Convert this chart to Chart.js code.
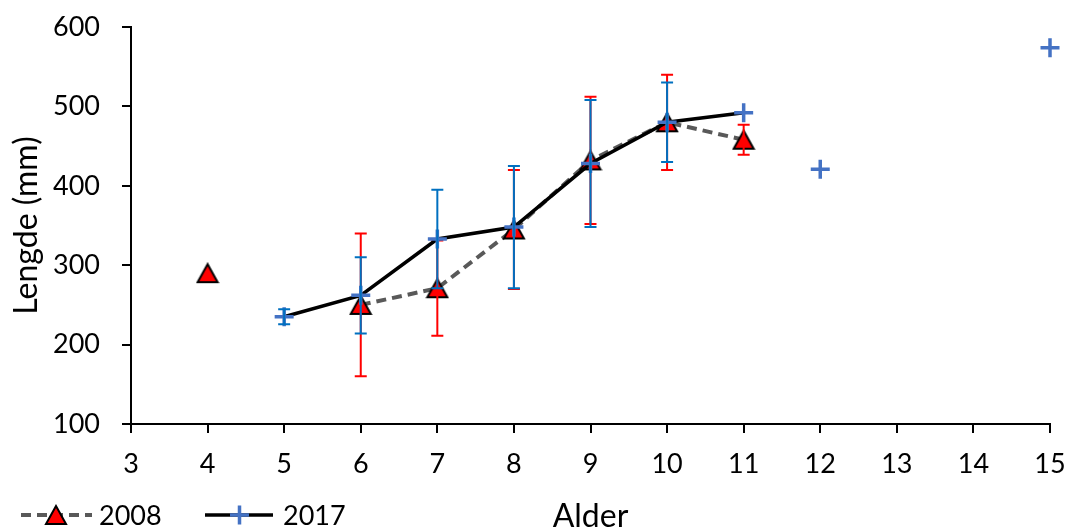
<!DOCTYPE html>
<html>
<head>
<meta charset="utf-8">
<script src="https://cdn.jsdelivr.net/npm/chart.js@4/dist/chart.umd.min.js"></script>
<style>
  body { margin: 0; background: #fff; }
  #wrap { width: 1070px; height: 529px; position: relative; }
</style>
</head>
<body>
<div id="wrap"><canvas id="chart"></canvas></div>
<script>
// data
var ages2008 = [4, 6, 7, 8, 9, 10, 11];
var length2008 = [290, 250, 271, 345, 432, 480, 458];
var sd2008 = [null, 90, 60, 75, 80, 60, 19];

var ages2017 = [5, 6, 7, 8, 9, 10, 11, 12, 15];
var length2017 = [235, 262, 333, 348, 428, 480, 492, 421, 574];
var sd2017 = [9.5, 48, 62, 77, 80, 50, null, null, null];

// ages joined by a line (first, last)
var joined2008 = [6, 11];
var joined2017 = [5, 11];

var xTicks = [3, 4, 5, 6, 7, 8, 9, 10, 11, 12, 13, 14, 15];
var yTicks = [100, 200, 300, 400, 500, 600];

var seriesNames = ["2008", "2017"];

var FONT = "Lato";

// red triangle marker with black edge, centred like Excel does
function makeTriangle() {
	var c = document.createElement("canvas");
	c.width = 24; c.height = 22;
	var g = c.getContext("2d");
	g.beginPath();
	g.moveTo(12, 2);
	g.lineTo(22, 20);
	g.lineTo(2, 20);
	g.closePath();
	g.fillStyle = "#ff0000";
	g.fill();
	g.lineWidth = 2;
	g.strokeStyle = "#000";
	g.lineJoin = "miter";
	g.stroke();
	return c;
}
var triangle = makeTriangle();

function toPoints(xs, ys) {
	var out = [];
	for (var i = 0; i < xs.length; i++) {
		out.push({ x: xs[i], y: ys[i] });
	}
	return out;
}

function segColor(range, color) {
	return function(ctx) {
		var a = ctx.p0.parsed.x, b = ctx.p1.parsed.x;
		if (a >= range[0] && b <= range[1]) return color;
		return "rgba(0,0,0,0)";
	};
}

var errorBars = {
	id: "errorBars",
	afterDatasetDraw: function(chart, args) {
		var ds = chart.data.datasets[args.index];
		if (!ds.errors) return;
		var xs = chart.scales.x, ys = chart.scales.y;
		var ctx = chart.ctx;
		ctx.save();
		ctx.strokeStyle = ds.errorColor;
		ctx.lineWidth = 2;
		for (var i = 0; i < ds.data.length; i++) {
			var e = ds.errors[i];
			if (e == null) continue;
			var px = xs.getPixelForValue(ds.data[i].x);
			var top = ys.getPixelForValue(ds.data[i].y + e);
			var bot = ys.getPixelForValue(ds.data[i].y - e);
			ctx.beginPath();
			ctx.moveTo(px, top); ctx.lineTo(px, bot);
			ctx.moveTo(px - 6, top); ctx.lineTo(px + 6, top);
			ctx.moveTo(px - 6, bot); ctx.lineTo(px + 6, bot);
			ctx.stroke();
		}
		ctx.restore();
	}
};

// Excel style legend: line sample with marker in the middle, on the axis title row
var bottomLegend = {
	id: "bottomLegend",
	afterDraw: function(chart) {
		var ctx = chart.ctx;
		var y = 515;
		ctx.save();
		// 2008
		ctx.strokeStyle = "#595959";
		ctx.lineWidth = 4;
		ctx.setLineDash([10, 6]);
		ctx.beginPath();
		ctx.moveTo(21, y); ctx.lineTo(92, y);
		ctx.stroke();
		ctx.setLineDash([]);
		ctx.drawImage(triangle, 56 - 12, y - 11);
		// 2017
		ctx.strokeStyle = "#000";
		ctx.lineWidth = 3.5;
		ctx.beginPath();
		ctx.moveTo(205, y); ctx.lineTo(273, y);
		ctx.stroke();
		ctx.strokeStyle = "#4472c4";
		ctx.beginPath();
		ctx.moveTo(230, y); ctx.lineTo(249, y);
		ctx.moveTo(239.5, y - 9.5); ctx.lineTo(239.5, y + 9.5);
		ctx.stroke();
		ctx.fillStyle = "#000";
		ctx.font = "27px " + FONT;
		ctx.textBaseline = "middle";
		ctx.textAlign = "left";
		ctx.fillText(seriesNames[0], 99, y + 1);
		ctx.fillText(seriesNames[1], 283, y + 1);
		ctx.restore();
	}
};

function noAutoPadding(axis) {
	axis.paddingTop = 0;
	axis.paddingBottom = 0;
	axis.paddingLeft = 0;
	axis.paddingRight = 0;
}

var ctx = document.getElementById("chart");

var chart = new Chart(ctx, {
	type: "line",
	data: {
		datasets: [
			{
				label: seriesNames[1],
				data: toPoints(ages2017, length2017),
				errors: sd2017,
				errorColor: "#0070c0",
				order: 0,
				clip: false,
				borderColor: "#000",
				borderWidth: 3.5,
				pointStyle: "cross",
				pointRadius: 9.5,
				pointBorderWidth: 3.5,
				pointBorderColor: "#4472c4",
				pointBackgroundColor: "#4472c4",
				fill: false,
				tension: 0,
				segment: { borderColor: segColor(joined2017, "#000") }
			},
			{
				label: seriesNames[0],
				data: toPoints(ages2008, length2008),
				errors: sd2008,
				errorColor: "#ff0000",
				order: 1,
				clip: false,
				borderColor: "#595959",
				borderWidth: 4,
				borderDash: [10, 6],
				pointStyle: triangle,
				pointRadius: 11,
				fill: false,
				tension: 0,
				segment: { borderColor: segColor(joined2008, "#595959") }
			}
		]
	},
	options: {
		responsive: true,
		maintainAspectRatio: false,
		animation: false,
		events: [],
		layout: { padding: { left: 0, right: 20, top: 27, bottom: 0 } },
		plugins: {
			legend: { display: false },
			tooltip: { enabled: false }
		},
		scales: {
			x: {
				type: "linear",
				min: xTicks[0],
				max: xTicks[xTicks.length - 1],
				afterBuildTicks: function(axis) {
					axis.ticks = xTicks.map(function(v) { return { value: v }; });
				},
				afterFit: function(axis) { axis.height = 105; noAutoPadding(axis); },
				grid: { drawOnChartArea: false, drawTicks: true, tickLength: 9, color: "#000", lineWidth: 2 },
				border: { color: "#000", width: 2 },
				ticks: { color: "#000", font: { family: FONT, size: 27 }, padding: 15, maxRotation: 0, autoSkip: false },
				title: {
					display: true,
					text: "Alder",
					color: "#000",
					font: { family: FONT, size: 32, lineHeight: 1 },
					padding: { top: 0, bottom: -4 }
				}
			},
			y: {
				min: yTicks[0],
				max: yTicks[yTicks.length - 1],
				afterBuildTicks: function(axis) {
					axis.ticks = yTicks.map(function(v) { return { value: v }; });
				},
				afterFit: function(axis) { axis.width = 131; noAutoPadding(axis); },
				grid: { drawOnChartArea: false, drawTicks: true, tickLength: 9, color: "#000", lineWidth: 2 },
				border: { color: "#000", width: 2 },
				ticks: { color: "#000", font: { family: FONT, size: 27 }, padding: 22 },
				title: {
					display: true,
					text: "Lengde (mm)",
					color: "#000",
					font: { family: FONT, size: 32, lineHeight: 1 },
					padding: { top: 11, bottom: 0 }
				}
			}
		}
	},
	plugins: [errorBars, bottomLegend]
});
</script>
</body>
</html>
